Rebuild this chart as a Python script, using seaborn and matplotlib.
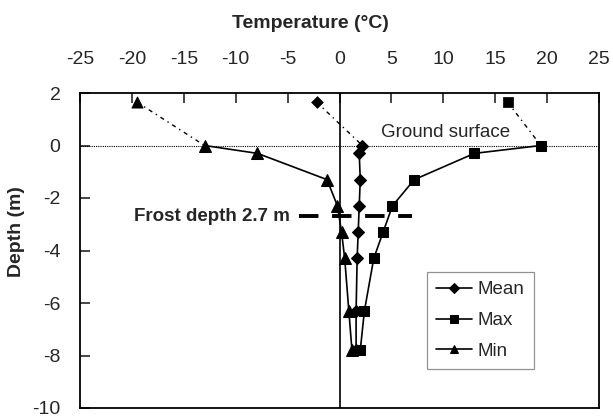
import matplotlib
matplotlib.use("Agg")
import matplotlib.pyplot as plt
import seaborn as sns
import pandas as pd

# Soil temperature profiles (sensor depths below ground, m)
depth = [0.0, -0.3, -1.3, -2.3, -3.3, -4.3, -6.3, -7.8]
mean_temp = [2.2, 1.9, 2.0, 1.9, 1.8, 1.7, 1.6, 1.6]
max_temp = [19.4, 13.0, 7.2, 5.1, 4.2, 3.3, 2.4, 2.0]
min_temp = [-13.0, -7.9, -1.2, -0.2, 0.2, 0.5, 0.9, 1.2]

# Air temperature above the ground surface
air_height = 1.65
air_mean = -2.2
air_max = 16.2
air_min = -19.5

frost_depth = 2.7
x_ticks = [-25, -20, -15, -10, -5, 0, 5, 10, 15, 20, 25]
y_ticks = [2, 0, -2, -4, -6, -8, -10]

sns.set_style("ticks")
plt.rcParams["font.family"] = ["Liberation Sans", "DejaVu Sans"]

fig = plt.figure(figsize=(6.13, 4.16), dpi=100)
ax = fig.add_axes([80 / 613, 1 - 408 / 416, 519 / 613, 315 / 416])

series = [
    ("Mean", mean_temp, air_mean, "D", 6.0),
    ("Max", max_temp, air_max, "s", 6.5),
    ("Min", min_temp, air_min, "^", 8),
]

for name, temps, air, marker, ms in series:
    soil = pd.DataFrame({"T": temps, "z": depth})
    sns.lineplot(data=soil, x="T", y="z", sort=False, estimator=None,
                 color="black", lw=1.2, marker=marker, markersize=ms,
                 markeredgecolor="black", label=name, ax=ax)
    air_df = pd.DataFrame({"T": [air, temps[0]], "z": [air_height, depth[0]]})
    sns.lineplot(data=air_df, x="T", y="z", sort=False, estimator=None,
                 color="black", lw=1.0, linestyle=(0, (3, 3, 1, 3)),
                 ax=ax, legend=False)
    sns.scatterplot(x=[air], y=[air_height], marker=marker, color="black",
                    s=ms ** 2, edgecolor="black", ax=ax, legend=False, zorder=4)

# Ground surface and 0 °C reference lines
ax.axhline(0, color="black", lw=0.8, linestyle=(0, (1, 1)), zorder=1)
ax.axvline(0, color="black", lw=1.2, zorder=1)

# Frost depth marker
ax.plot([-3.9, 7.0], [-frost_depth, -frost_depth], color="black", lw=2.8,
        linestyle=(0, (5, 3.5)), zorder=1)
ax.text(-4.8, -frost_depth, f"Frost depth {frost_depth} m", ha="right",
        va="center", fontsize=13.5, fontweight="bold")
ax.text(4.0, 0.5, "Ground surface", ha="left", va="center", fontsize=13.5)

ax.set_xlim(-25, 25)
ax.set_ylim(-10, 2)
ax.set_xticks(x_ticks)
ax.set_xticklabels([str(v) for v in x_ticks])
ax.set_yticks(y_ticks)
ax.set_yticklabels([str(v) for v in y_ticks])
ax.xaxis.tick_top()
ax.tick_params(axis="x", direction="in", length=7, width=1.2, pad=18,
               labelsize=14, top=True, bottom=False)
ax.tick_params(axis="y", direction="in", length=7, width=1.2, pad=14,
               labelsize=14, left=True, right=False)
for sp in ax.spines.values():
    sp.set_visible(True)
    sp.set_color("black")
    sp.set_linewidth(1.3)
ax.set_xlabel("")
ax.set_ylabel("")

fig.text(310 / 613, 1 - 24 / 416, "Temperature (°C)", ha="center",
         va="center", fontsize=14, fontweight="bold")
fig.text(17 / 613, 1 - 232 / 416, "Depth (m)", ha="center", va="center",
         rotation=90, fontsize=14, fontweight="bold")

leg = ax.legend(loc="upper left", bbox_to_anchor=(427 / 613, 1 - 272 / 416),
                bbox_transform=fig.transFigure, borderaxespad=0,
                fontsize=13.5, frameon=True, fancybox=False,
                handlelength=1.9, handletextpad=0.3, labelspacing=0.72,
                borderpad=0.5, edgecolor="#777777")
leg.get_frame().set_linewidth(0.9)
for h in leg.legend_handles:
    h.set_markersize(5.5)

fig.savefig("out.png", dpi=100)
